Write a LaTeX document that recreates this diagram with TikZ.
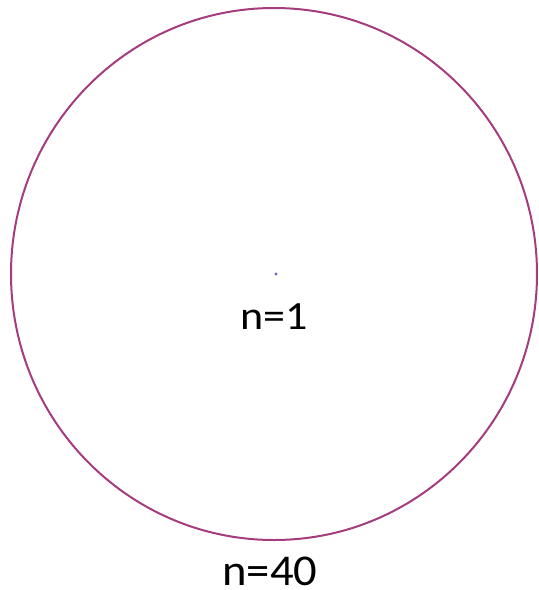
\documentclass[tikz,border=0pt]{standalone}
\usepackage{fontspec}
\setmainfont{Carlito}
\definecolor{ringc}{RGB}{165,60,125}
\definecolor{dotc}{RGB}{100,100,200}
\begin{document}
\begin{tikzpicture}[x=1pt,y=-1pt,
  lab/.style={inner sep=0pt, anchor=base}]
\useasboundingbox (0,0) rectangle (539,590);
\draw[ringc, line width=2pt] (274,274) ellipse [x radius=263, y radius=266];
\fill[dotc] (276,274) circle (1.6) coordinate (d);
\node[lab, xscale=1.1, font=\fontsize{40}{48}\selectfont] (n1) at (274,329) {n=1};
\node[lab, xscale=1.06, font=\fontsize{44}{52}\selectfont] (n40) at (270,585) {n=40};
\end{tikzpicture}
\end{document}
